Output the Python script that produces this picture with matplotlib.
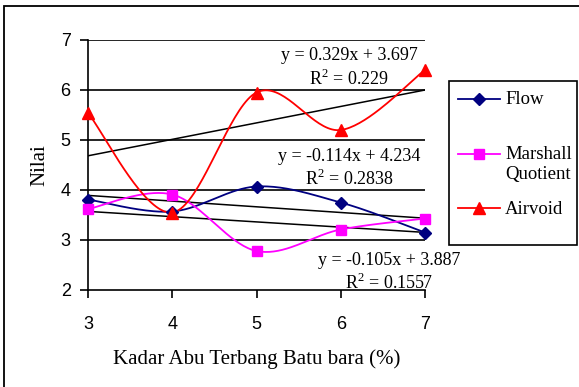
import numpy as np
import matplotlib
matplotlib.use("Agg")
import matplotlib.pyplot as plt
from matplotlib.patches import Rectangle
from matplotlib.lines import Line2D

# ── data ─────────────────────────────────────────
kadar = [3, 4, 5, 6, 7]
flow = [3.81, 3.57, 4.07, 3.75, 3.15]
marshall = [3.62, 3.91, 2.78, 3.21, 3.43]
airvoid = [5.54, 3.55, 5.95, 5.20, 6.40]

# trend lines (slope, intercept, R^2) as printed on the chart
trend_airvoid = (0.329, 3.697, "0.229")
trend_flow = (-0.114, 4.234, "0.2838")
trend_marshall = (-0.105, 3.887, "0.1557")

SERIF = "Liberation Serif"
SANS = "Liberation Sans"
plt.rcParams["mathtext.fontset"] = "custom"
plt.rcParams["mathtext.rm"] = SERIF


def smooth(xs, ys, n=40):
    """Excel-like smoothed line (bezier, 1/6 tension)"""
    pts = np.column_stack([xs, ys]).astype(float)
    ext = np.vstack([pts[0], pts, pts[-1]])
    out = []
    t = np.linspace(0, 1, n)[:, None]
    for i in range(len(pts) - 1):
        p0, p1, p2, p3 = ext[i], ext[i + 1], ext[i + 2], ext[i + 3]
        c1 = p1 + (p2 - p0) / 6.0
        c2 = p2 - (p3 - p1) / 6.0
        seg = (1 - t) ** 3 * p1 + 3 * (1 - t) ** 2 * t * c1 + 3 * (1 - t) * t ** 2 * c2 + t ** 3 * p2
        out.append(seg if i == 0 else seg[1:])
    out = np.vstack(out)
    return out[:, 0], out[:, 1]


W, H = 579, 387
fig = plt.figure(figsize=(W / 100, H / 100), dpi=100)
ax = fig.add_axes([88 / W, 1 - 290 / H, (425 - 88) / W, (290 - 40) / H])


def fx(px):
    return px / W


def fy(py):
    return 1 - py / H


# outer chart border (only left/top visible)
fig.patches.append(Rectangle((fx(4), -0.1), 1.2, fy(6) + 0.1, transform=fig.transFigure,
                             fill=False, edgecolor="black", linewidth=1.3))

for yv in range(3, 8):
    ax.axhline(yv, color="black", linewidth=1.2, zorder=1)

series = [
    (flow, "Flow", "#000080", "D", 6.5),
    (marshall, "Marshall\nQuotient", "#FF00FF", "s", 7.5),
    (airvoid, "Airvoid", "#FF0000", "^", 9),
]
for ys, label, col, mk, ms in series:
    sx, sy = smooth(kadar, ys)
    ax.plot(sx, sy, color=col, linewidth=1.3, zorder=3, clip_on=False)
    ax.plot(kadar, ys, linestyle="none", marker=mk, markersize=ms, color=col,
            zorder=4, clip_on=False)

xt = np.array([kadar[0], kadar[-1]], dtype=float)
for slope, icpt, _ in (trend_airvoid, trend_flow, trend_marshall):
    ax.plot(xt, slope * xt + icpt, color="black", linewidth=1.1, zorder=2)


def eq_text(x, y, tr):
    slope, icpt, r2 = tr
    ax.text(x, y, f"y = {slope:.3f}x + {icpt:.3f}\nR$^2$ = {r2}", ha="center", va="center",
            multialignment="center", fontsize=13, family=SERIF, linespacing=1.25, zorder=5)


eq_text(6.10, 6.44, trend_airvoid)
eq_text(6.10, 4.43, trend_flow)
eq_text(6.57, 2.35, trend_marshall)

ax.set_xlim(3, 7)
ax.set_ylim(2, 7)
ax.set_xticks(kadar)
ax.set_yticks(range(2, 8))
for s in ("top", "right"):
    ax.spines[s].set_visible(False)
for s in ("left", "bottom"):
    ax.spines[s].set_linewidth(1.2)
ax.tick_params(axis="both", direction="out", length=6, width=1.2, labelsize=13)
ax.tick_params(axis="x", pad=12.5)
ax.tick_params(axis="y", pad=6.5)
for lab in ax.get_xticklabels() + ax.get_yticklabels():
    lab.set_family(SANS)

ax.set_xlabel("Kadar Abu Terbang Batu bara (%)", fontsize=15, family=SERIF, labelpad=12)
ax.set_ylabel("Nilai", fontsize=15, family=SERIF, labelpad=8)

# ── legend (Excel style: key aligned with first text line) ──
fig.patches.append(Rectangle((fx(449), fy(245)), fx(577) - fx(449), fy(81) - fy(245),
                             transform=fig.transFigure, fill=False, edgecolor="black",
                             linewidth=1.2))
leg_rows = [99, 154, 208]
for (ys, label, col, mk, ms), ry in zip(series, leg_rows):
    fig.add_artist(Line2D([fx(458), fx(500)], [fy(ry), fy(ry)], color=col, linewidth=1.3,
                          transform=fig.transFigure))
    fig.add_artist(Line2D([fx(479)], [fy(ry)], marker=mk, markersize=ms, color=col,
                          linestyle="none", transform=fig.transFigure))
    if "\n" in label:
        fig.text(fx(505), fy(ry - 8), label, ha="left", va="top",
                 fontsize=13.5, family=SERIF, linespacing=1.2)
    else:
        fig.text(fx(505), fy(ry + 1), label, ha="left", va="center",
                 fontsize=13.5, family=SERIF)

fig.savefig("out.png", dpi=100)
